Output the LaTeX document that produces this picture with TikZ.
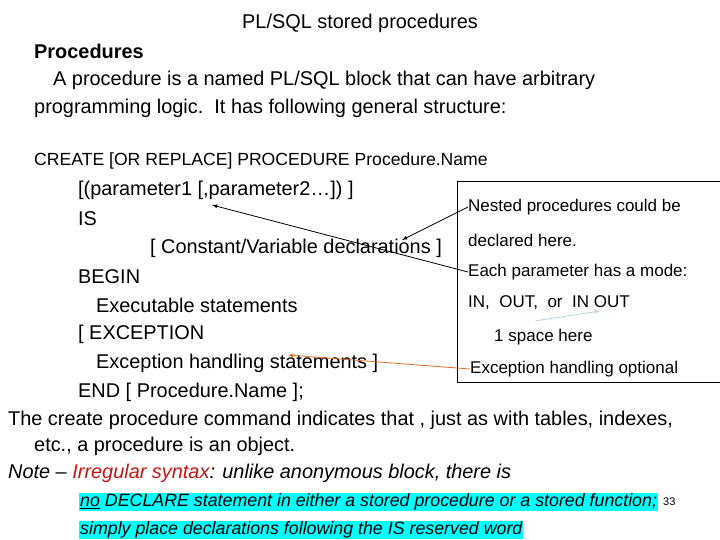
\documentclass[tikz,border=0pt]{standalone}
\usepackage{fontspec}
\setmainfont{Liberation Sans}
\usetikzlibrary{positioning}
\definecolor{syntaxred}{RGB}{200,20,20}
\definecolor{hilite}{RGB}{0,255,255}
\definecolor{spaceblue}{RGB}{170,215,225}
\definecolor{optorange}{RGB}{220,110,40}
\begin{document}
\begin{tikzpicture}
[x=1pt,y=-1pt,
 txt/.style={anchor=west,inner sep=0pt,font=\fontsize{19.9}{23}\selectfont},
 small/.style={anchor=west,inner sep=0pt,font=\fontsize{17.6}{20}\selectfont},
 side/.style={anchor=west,inner sep=0pt,font=\fontsize{17}{20}\selectfont},
 note/.style={anchor=west,inner sep=1pt,fill=hilite,font=\fontsize{17.8}{20}\selectfont\itshape},
 pointer/.style={-latex,thick},
]
\useasboundingbox (0,0) rectangle (720,540);
% heading and intro
\node[anchor=center,inner sep=0pt,font=\fontsize{19.9}{23}\selectfont] (title) at (360,23) {PL/SQL stored procedures};
\node[txt,font=\fontsize{19.9}{23}\selectfont\bfseries] (proc) at (34,51) {Procedures};
\node[txt] (intro1) at (53,80) {A procedure is a named PL/SQL block that can have arbitrary};
\node[txt] (intro2) at (34,108) {programming logic.\ \ It has following general structure:};
% general structure
\node[small] (create) at (34,161) {CREATE [OR REPLACE] PROCEDURE Procedure.Name};
\node[txt] (params) at (78,190) {[(parameter1 [,parameter2\dots]) ]};
\node[txt] (is) at (78,219) {IS};
\node[txt] (decl) at (150,248) {[ Constant/Variable declarations ]};
\node[txt] (begin) at (78,277) {BEGIN};
\node[txt] (exec) at (96,305) {Executable statements};
\node[txt] (exc) at (78,334) {[ EXCEPTION};
\node[txt] (handle) at (96,363) {Exception handling statements ]};
\node[txt] (end) at (78,392) {END [ Procedure.Name ];};
\node[txt] (obj1) at (8,420) {The create procedure command indicates that , just as with tables, indexes,};
\node[txt] (obj2) at (34,446) {etc., a procedure is an object.};
\node[txt,font=\fontsize{19.9}{23}\selectfont\itshape] (remark) at (8,473) {Note -- \textcolor{syntaxred}{Irregular syntax}: unlike anonymous block, there is};
\node[note] (nodecl) at (79,502) {\underline{no} DECLARE statement in either a stored procedure or a stored function;};
\node[note] (place) at (79,530) {simply place declarations following the IS reserved word};
\node[anchor=west,inner sep=0pt,font=\fontsize{11}{13}\selectfont] (page) at (663,502) {33};
% side box
\draw (725,181) -- (457,181) -- (457,382) -- (725,382);
\node[side] (nested) at (468,207) {Nested procedures could be};
\node[side] (here) at (468,240) {declared here.};
\node[side] (mode) at (468,272) {Each parameter has a mode:};
\node[side] (inout) at (468,303) {IN,\ \ OUT,\ \ or\ \ IN OUT};
\node[side] (space) at (494,337) {1 space here};
\node[side] (optional) at (470,369) {Exception handling optional};
% pointers
\coordinate (declpt) at (402,240);
\coordinate (parampt) at (212,205);
\coordinate (gappt) at (600,311);
\coordinate (handlept) at (288,355);
\draw[pointer] (nested.west) -- (declpt);
\draw[pointer] (mode.west) -- (parampt);
\draw[pointer,spaceblue] (space.north) ++(-8,-8) -- (gappt);
\draw[pointer,optorange] (optional.west) -- (handlept);
\end{tikzpicture}
\end{document}
